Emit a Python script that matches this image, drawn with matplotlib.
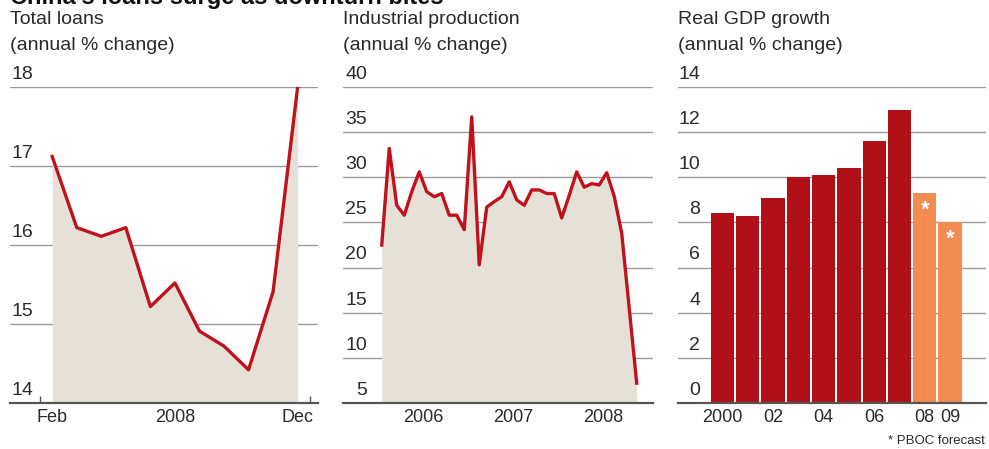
import matplotlib
matplotlib.use("Agg")
import matplotlib.pyplot as plt
from matplotlib.transforms import offset_copy

plt.rcParams["font.family"] = ["Liberation Sans", "DejaVu Sans"]

RED = "#c0121c"
BAR_RED = "#b01018"
BAR_ORANGE = "#f28c52"
FILL = "#e5e1d6"
GRID = "#9a9a9a"
AXIS = "#555555"
TXT = "#2a2a2a"

# Total loans, monthly, Feb-Dec 2008
loan_months = list(range(11))
loan_values = [17.12, 16.22, 16.11, 16.22, 15.22, 15.52, 14.91, 14.72, 14.42, 15.41, 18.0]
loan_ticklabels = {0: "Feb", 5: "2008", 10: "Dec"}

# Industrial production, monthly, Jan 2006 - Nov 2008
ip_values = [22.5, 33.2, 26.9, 25.8, 28.4, 30.6, 28.4, 27.85, 28.2, 25.8, 25.8, 24.2,
             36.7, 20.3, 26.7, 27.3, 27.85, 29.5, 27.5, 26.9, 28.6, 28.6, 28.2, 28.2,
             25.5, 28.0, 30.6, 28.9, 29.3, 29.15, 30.5, 27.9, 23.8, 15.5, 7.2]
ip_years = [2006, 2007, 2008]

# Real GDP growth, 2008-09 are PBOC forecasts
gdp_years = list(range(2000, 2010))
gdp_values = [8.4, 8.3, 9.1, 10.0, 10.1, 10.4, 11.6, 13.0, 9.3, 8.0]
gdp_forecast = [False] * 8 + [True, True]
gdp_ticklabels = {2000: "2000", 2002: "02", 2004: "04", 2006: "06", 2008: "08", 2009: "09"}

W, H = 989, 449
fig = plt.figure(figsize=(W / 100, H / 100), dpi=100)


def box(x0, x1, ytop=87, ybot=403):
    return [x0 / W, 1 - ybot / H, (x1 - x0) / W, (ybot - ytop) / H]


def frame(ax, ticks, title, labx):
    ax.set_ylim(ticks[0], ticks[-1])
    for s in ("top", "right", "left"):
        ax.spines[s].set_visible(False)
    ax.spines["bottom"].set_color(AXIS)
    ax.spines["bottom"].set_linewidth(1.6)
    ax.set_yticks(ticks)
    ax.tick_params(axis="y", left=False, labelleft=False)
    ax.grid(axis="y", color=GRID, lw=1.0)
    ax.set_axisbelow(True)
    tr = offset_copy(ax.get_yaxis_transform(), fig=fig, x=0, y=3, units="points")
    for t in ticks:
        ax.text(labx, t, f"{t:g}", transform=tr, ha="right", va="bottom",
                fontsize=14, color=TXT)
    x0 = ax.get_position().x0
    fig.text(x0, 1 - 20 / H, title, fontsize=14, color=TXT, va="center", ha="left")
    fig.text(x0, 1 - 45 / H, "(annual % change)", fontsize=14, color=TXT,
             va="center", ha="left")


# --- Total loans ---
ax1 = fig.add_axes(box(10, 318))
ax1.fill_between(loan_months, loan_values, 14, color=FILL, lw=0, zorder=1)
ax1.plot(loan_months, loan_values, color=RED, lw=2.4, zorder=3)
ax1.set_xlim(-1.72, 10.83)
frame(ax1, [14, 15, 16, 17, 18], "Total loans", 0.075)
ax1.set_xticks([m - 0.5 for m in range(12)])
ax1.set_xticklabels([])
ax1.tick_params(axis="x", direction="in", length=5, color=AXIS, width=1)
for m, lab in loan_ticklabels.items():
    ax1.text(m, -0.045, lab, transform=ax1.get_xaxis_transform(), ha="center",
             va="center", fontsize=13, color=TXT)

# --- Industrial production ---
ax2 = fig.add_axes(box(343, 653))
ip_x = [2006 + (m + 0.5) / 12 for m in range(len(ip_values))]
ax2.fill_between(ip_x, ip_values, 5, color=FILL, lw=0, zorder=1)
ax2.plot(ip_x, ip_values, color=RED, lw=2.4, zorder=3)
ax2.set_xlim(2005.611, 2009.056)
frame(ax2, [5, 10, 15, 20, 25, 30, 35, 40], "Industrial production", 0.078)
ax2.set_xticks([2007, 2008])
ax2.set_xticklabels([])
ax2.tick_params(axis="x", direction="in", length=10, color=AXIS, width=1)
for y in ip_years:
    ax2.text(y + 0.5, -0.045, str(y), transform=ax2.get_xaxis_transform(),
             ha="center", va="center", fontsize=13, color=TXT)

# --- Real GDP growth ---
ax3 = fig.add_axes(box(678, 986))
colors = [BAR_ORANGE if f else BAR_RED for f in gdp_forecast]
ax3.bar(gdp_years, gdp_values, width=0.92, color=colors, zorder=2)
ax3.set_xlim(1998.24, 2010.42)
frame(ax3, [0, 2, 4, 6, 8, 10, 12, 14], "Real GDP growth", 0.072)
ax3.tick_params(axis="x", bottom=False, labelbottom=False)
for yr, lab in gdp_ticklabels.items():
    ax3.text(yr, -0.045, lab, transform=ax3.get_xaxis_transform(), ha="center",
             va="center", fontsize=13, color=TXT)
for yr, v, f in zip(gdp_years, gdp_values, gdp_forecast):
    if f:
        ax3.annotate("*", (yr, v), xytext=(0, -20), textcoords="offset points",
                     ha="center", va="bottom", color="white", fontsize=16,
                     fontweight="bold")

fig.text(985 / W, 1 - 441 / H, "* PBOC forecast", ha="right", va="center",
         fontsize=9.5, color=TXT)

# headline sits partly above the top edge
fig.text(10 / W, 1 - 4 / H, "China's loans surge as downturn bites", ha="left",
         va="baseline", fontsize=17, fontweight="bold", color="#111111")

fig.savefig("out.png", dpi=100)
